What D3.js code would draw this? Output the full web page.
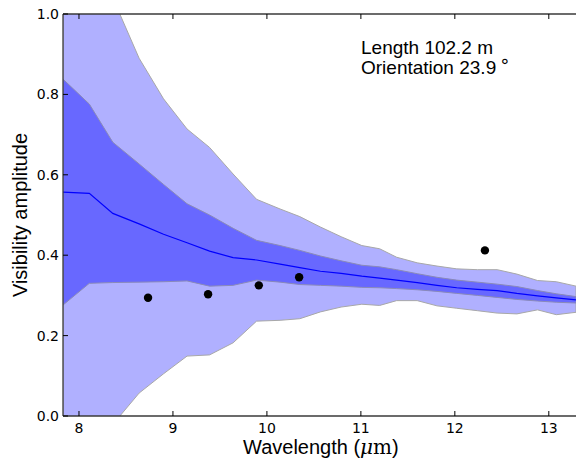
<!DOCTYPE html>
<html>
<head>
<meta charset="utf-8">
<script src="https://cdn.jsdelivr.net/npm/d3@7"></script>
<style>
  body { margin: 0; background: #fff; }
  text { font-family: "DejaVu Sans", sans-serif; }
  text.sans { font-family: "Liberation Sans", Arial, sans-serif; }
</style>
</head>
<body>
<div id="chart"></div>
<script>
// wavelength grid (micron)
const wavelengths = [7.83, 8.11, 8.36, 8.64, 8.90, 9.15, 9.39, 9.64, 9.89, 10.14, 10.35, 10.57, 10.79,
  11.01, 11.20, 11.38, 11.60, 11.81, 12.02, 12.24, 12.45, 12.66, 12.88, 13.08, 13.29];

const meanVis = [0.557, 0.554, 0.504, 0.478, 0.452, 0.431, 0.410, 0.394, 0.388, 0.378, 0.369, 0.360, 0.355,
  0.348, 0.343, 0.338, 0.332, 0.325, 0.319, 0.315, 0.312, 0.305, 0.299, 0.294, 0.289];

const innerUpper = [0.838, 0.776, 0.681, 0.627, 0.576, 0.528, 0.500, 0.467, 0.437, 0.424, 0.412, 0.398, 0.386,
  0.375, 0.371, 0.364, 0.354, 0.345, 0.338, 0.333, 0.328, 0.322, 0.312, 0.304, 0.297];

const innerLower = [0.276, 0.330, 0.332, 0.333, 0.334, 0.336, 0.323, 0.325, 0.338, 0.333, 0.327, 0.325, 0.323,
  0.320, 0.319, 0.317, 0.314, 0.310, 0.305, 0.300, 0.295, 0.290, 0.286, 0.283, 0.281];

const outerUpper = [1.25, 1.15, 1.04, 0.890, 0.789, 0.714, 0.668, 0.602, 0.539, 0.515, 0.496, 0.470, 0.446,
  0.424, 0.416, 0.395, 0.381, 0.373, 0.366, 0.364, 0.364, 0.353, 0.337, 0.334, 0.323];

const outerLower = [-0.170, -0.093, -0.021, 0.057, 0.105, 0.149, 0.152, 0.182, 0.236, 0.238, 0.242, 0.259, 0.271,
  0.278, 0.275, 0.287, 0.287, 0.274, 0.268, 0.262, 0.256, 0.254, 0.264, 0.252, 0.258];

// measured visibilities
const obsWavelength = [8.735, 9.374, 9.914, 10.343, 12.32];
const obsVis = [0.294, 0.303, 0.325, 0.345, 0.412];

const xTicks = [8, 9, 10, 11, 12, 13];
const yTicks = [0.0, 0.2, 0.4, 0.6, 0.8, 1.0];

const width = 576, height = 466;
const margin = { top: 14, right: -1, bottom: 50, left: 63 };
const plotW = width - margin.left - margin.right;
const plotH = height - margin.top - margin.bottom;

const svg = d3.select('#chart').append('svg')
  .attr('width', width)
  .attr('height', height);

const x = d3.scaleLinear().domain([7.83, 13.30]).range([0, plotW]);
const y = d3.scaleLinear().domain([0, 1]).range([plotH, 0]);

svg.append('defs').append('clipPath').attr('id', 'clip')
  .append('rect').attr('width', plotW).attr('height', plotH);

const g = svg.append('g').attr('transform', `translate(${margin.left},${margin.top})`);
const plot = g.append('g').attr('clip-path', 'url(#clip)');

const idx = d3.range(wavelengths.length);

const band = (lo, hi) => d3.area()
  .x(i => x(wavelengths[i]))
  .y0(i => y(lo[i]))
  .y1(i => y(hi[i]));

plot.append('path')
  .datum(idx)
  .attr('d', band(outerLower, outerUpper))
  .attr('fill', '#b0b0ff')
  .attr('stroke', '#a8a8a8')
  .attr('stroke-width', 1);

plot.append('path')
  .datum(idx)
  .attr('d', band(innerLower, innerUpper))
  .attr('fill', '#6868ff')
  .attr('stroke', '#8a8ab8')
  .attr('stroke-width', 1);

plot.append('path')
  .datum(idx)
  .attr('d', d3.line().x(i => x(wavelengths[i])).y(i => y(meanVis[i])))
  .attr('fill', 'none')
  .attr('stroke', '#0000ff')
  .attr('stroke-width', 1.2);

plot.selectAll('circle')
  .data(obsWavelength)
  .enter().append('circle')
  .attr('cx', d => x(d))
  .attr('cy', (d, i) => y(obsVis[i]))
  .attr('r', 4.2)
  .attr('fill', '#000');

// spines
const spine = '#3a3a3a';
g.append('line').attr('x1', 0).attr('x2', plotW).attr('y1', 0).attr('y2', 0).attr('stroke', spine).attr('stroke-width', 1.3);
g.append('line').attr('x1', 0).attr('x2', plotW).attr('y1', plotH).attr('y2', plotH).attr('stroke', spine).attr('stroke-width', 1.3);
g.append('line').attr('x1', 0).attr('x2', 0).attr('y1', 0).attr('y2', plotH).attr('stroke', spine).attr('stroke-width', 1.3);

// ticks (inward, matplotlib classic)
const tickLen = 5;
xTicks.forEach(t => {
  g.append('line').attr('x1', x(t)).attr('x2', x(t)).attr('y1', plotH).attr('y2', plotH - tickLen).attr('stroke', '#000');
  g.append('line').attr('x1', x(t)).attr('x2', x(t)).attr('y1', 0).attr('y2', tickLen).attr('stroke', '#000');
  g.append('text')
    .attr('x', x(t)).attr('y', plotH + 17)
    .attr('text-anchor', 'middle')
    .attr('font-size', 14)
    .text(t);
});

yTicks.forEach(t => {
  g.append('line').attr('x1', 0).attr('x2', tickLen).attr('y1', y(t)).attr('y2', y(t)).attr('stroke', '#000');
  g.append('text')
    .attr('x', -4).attr('y', y(t))
    .attr('dy', '0.35em')
    .attr('text-anchor', 'end')
    .attr('font-size', 14)
    .text(t.toFixed(1));
});

// axis labels
const xl = svg.append('text')
  .attr('class', 'sans')
  .attr('x', 243)
  .attr('y', 454)
  .attr('font-size', 20);
xl.append('tspan').text('Wavelength (');
xl.append('tspan').style('font-family', '"DejaVu Serif", serif').style('font-style', 'italic').text('μ');
xl.append('tspan').style('font-family', '"DejaVu Serif", serif').text('m');
xl.append('tspan').text(')');

svg.append('text')
  .attr('class', 'sans')
  .attr('transform', `translate(27,${margin.top + plotH / 2}) rotate(-90)`)
  .attr('text-anchor', 'middle')
  .attr('font-size', 20)
  .text('Visibility amplitude');

// annotation
svg.append('text').attr('class', 'sans').attr('x', 361).attr('y', 54).attr('font-size', 19).text('Length 102.2 m');
const t2 = svg.append('text').attr('class', 'sans').attr('x', 361).attr('y', 74).attr('font-size', 19);
t2.append('tspan').text('Orientation 23.9');
t2.append('tspan').attr('dx', 3).attr('dy', -7).attr('font-size', 18).style('font-family', '"DejaVu Sans", sans-serif').text('∘');
</script>
</body>
</html>
